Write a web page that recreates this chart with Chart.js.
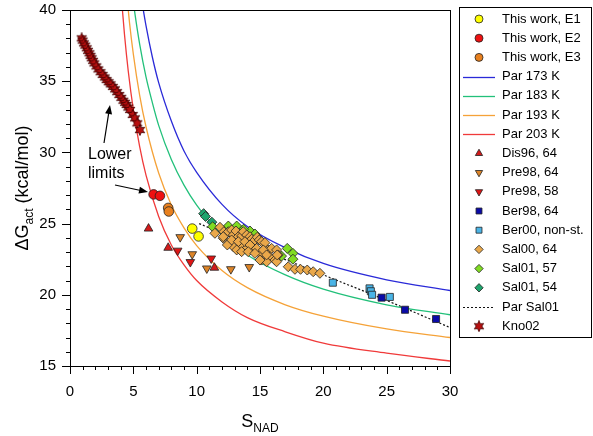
<!DOCTYPE html>
<html>
<head>
<meta charset="utf-8">
<script src="https://cdn.jsdelivr.net/npm/chart.js@4/dist/chart.umd.min.js"></script>
<style>
  html, body { margin: 0; padding: 0; background: #fff; }
  canvas { display: block; }
</style>
</head>
<body>
<canvas id="myChart" width="593" height="436"></canvas>
<script>
// values (S_NAD on x, dG_act on y)

var e1X = [9.65, 10.15];
var e1Y = [24.65, 24.1];
var e2X = [6.6, 7.1];
var e2Y = [27.05, 26.95];
var e3X = [7.75, 7.8];
var e3Y = [26.1, 25.85];

// fitted curves, points
var par173X = [5.6, 6.0, 6.5, 7.0, 8.0, 9.0, 10, 12, 14, 17, 20, 25, 30];
var par173Y = [41.0, 38.9, 36.7, 34.9, 32.2, 30.1, 28.6, 26.35, 24.8, 23.3, 22.2, 21.05, 20.3];
var par183X = [4.8, 5.1, 5.5, 6.0, 6.5, 7.0, 8.0, 9.0, 10, 12, 14, 17, 20, 25, 30];
var par183Y = [41.9, 39.9, 37.6, 35.3, 33.5, 31.9, 29.5, 27.7, 26.3, 24.2, 22.8, 21.4, 20.4, 19.3, 18.6];
var par193X = [4.4, 4.7, 5.0, 5.5, 6.0, 7.0, 8.0, 9.0, 10, 12, 14, 17, 20, 25, 30];
var par193Y = [41.8, 39.1, 36.9, 34.0, 31.8, 28.55, 26.3, 24.7, 23.45, 21.7, 20.5, 19.3, 18.5, 17.6, 17.0];
var par203X = [4.0, 4.3, 4.6, 5.0, 5.5, 6.0, 7.0, 8.0, 9.0, 10, 12, 14, 17, 20, 25, 30];
var par203Y = [41.5, 38.3, 35.7, 33.0, 30.4, 28.4, 25.5, 23.5, 22.1, 21.0, 19.5, 18.4, 17.4, 16.6, 15.9, 15.35];

var dis96X = [6.2, 7.75, 11.4];
var dis96Y = [24.65, 23.3, 21.9];
var pre64X = [8.7, 9.65, 10.8, 12.7, 14.15];
var pre64Y = [24.05, 22.85, 21.85, 21.8, 21.95];
var pre58X = [8.5, 9.5, 11.15];
var pre58Y = [23.1, 22.3, 22.55];
var ber98X = [24.6, 26.45, 28.9];
var ber98Y = [19.8, 18.95, 18.3];
var ber00X = [20.75, 23.65, 23.75, 23.85, 25.25];
var ber00Y = [20.85, 20.45, 20.25, 20.0, 19.85];

var sal00X = [11.44, 11.84, 12.15, 12.5, 12.76, 12.89, 13.1, 13.29, 13.55, 13.68, 13.95, 14.21, 14.34, 14.47,
  14.78, 14.94, 15.13, 15.39, 15.65, 15.92, 16.31, 16.44, 15.79, 15.13, 15.52, 15.0, 14.34, 13.95, 13.42,
  12.89, 12.42, 12.1, 12.76, 13.29, 13.81, 14.21, 14.73, 15.26, 13.16, 13.55, 14.07, 14.6, 15.52, 16.18,
  12.1, 15.0, 16.31, 16.36, 17.23, 17.76, 18.2, 18.73, 19.2, 19.73];
var sal00Y = [24.32, 24.74, 24.43, 24.43, 24.55, 24.2, 24.48, 24.08, 24.13, 24.43, 24.2, 24.08, 23.9, 23.73,
  24.04, 23.85, 23.73, 23.66, 23.15, 23.26, 23.15, 22.8, 22.68, 22.44, 22.32, 22.91, 23.38, 23.38, 23.5,
  23.38, 23.5, 23.97, 23.85, 23.73, 23.73, 23.5, 23.26, 23.15, 23.15, 23.03, 23.03, 22.91, 22.8, 22.44,
  24.08, 22.44, 22.32, 22.8, 21.97, 21.79, 21.79, 21.74, 21.62, 21.51];
var sal57X = [11.26, 12.5, 13.16, 14.21, 14.6, 17.15, 17.6, 17.6, 16.7, 13.7];
var sal57Y = [24.78, 24.83, 24.83, 24.48, 24.27, 23.26, 22.91, 22.5, 22.72, 24.6];
var sal54X = [10.55, 10.7, 11.2];
var sal54Y = [25.7, 25.5, 25.1];

var parSalX = [10.2, 15, 20, 25, 30];
var parSalY = [25.0, 23.2, 21.4, 19.6, 17.7];

var kno02X = [0.92, 1.0, 1.1, 1.2, 1.32, 1.42, 1.53, 1.62, 1.71, 1.82, 1.92, 2.08, 2.24, 2.41, 2.58, 2.74, 2.89,
  3.05, 3.21, 3.38, 3.55, 3.72, 3.89, 4.05, 4.21, 4.34, 4.47, 4.6, 4.74, 4.95, 5.13, 5.31, 5.52];
var kno02Y = [38.01, 37.85, 37.66, 37.5, 37.31, 37.13, 36.96, 36.78, 36.61, 36.43, 36.25, 36.04, 35.83, 35.63,
  35.44, 35.26, 35.08, 34.93, 34.78, 34.6, 34.43, 34.23, 34.03, 33.83, 33.63, 33.48, 33.33, 33.15, 32.98,
  32.63, 32.39, 32.04, 31.57];

var xTicks = [0, 5, 10, 15, 20, 25, 30];
var yTicks = [15, 20, 25, 30, 35, 40];

var FONT = "'Liberation Sans', Arial, sans-serif";

function pts(xs, ys){
  var out = [];
  for (var i = 0; i < xs.length; i++) out.push({x: xs[i], y: ys[i]});
  return out;
}

// filled six point star for Kno02
function makeStar(){
  var c = document.createElement('canvas');
  c.width = 12; c.height = 12;
  var g = c.getContext('2d');
  g.beginPath();
  for (var i = 0; i < 12; i++) {
    var r = i % 2 === 0 ? 5.5 : 2.8;
    var a = -Math.PI / 2 + i * Math.PI / 6;
    var px = 6 + r * Math.cos(a), py = 6 + r * Math.sin(a);
    if (i === 0) g.moveTo(px, py); else g.lineTo(px, py);
  }
  g.closePath();
  g.fillStyle = '#b81010';
  g.fill();
  g.lineWidth = 0.8;
  g.strokeStyle = '#400000';
  g.stroke();
  return c;
}
var starImg = makeStar();

function markers(label, xs, ys, style, fill, radius, rotation){
  return {
    label: label,
    data: pts(xs, ys),
    pointStyle: style,
    pointRadius: radius,
    pointRotation: rotation || 0,
    backgroundColor: fill,
    borderColor: '#222',
    borderWidth: 0.8,
    showLine: false,
    order: 1
  };
}

function curve(label, xs, ys, color, dash){
  return {
    label: label,
    data: pts(xs, ys),
    showLine: true,
    borderColor: color,
    borderWidth: dash ? 1.2 : 1.3,
    borderDash: dash || [],
    pointRadius: 0,
    cubicInterpolationMode: 'monotone',
    fill: false,
    order: 5
  };
}

var datasets = [
  markers('This work, E1', e1X, e1Y, 'circle', '#ffff00', 4.8),
  markers('This work, E2', e2X, e2Y, 'circle', '#ee1111', 4.8),
  markers('This work, E3', e3X, e3Y, 'circle', '#e8801e', 4.8),
  curve('Par 173 K', par173X, par173Y, '#2a2ad8'),
  curve('Par 183 K', par183X, par183Y, '#22c07a'),
  curve('Par 193 K', par193X, par193Y, '#f5a238'),
  curve('Par 203 K', par203X, par203Y, '#f03a3a'),
  markers('Dis96, 64', dis96X, dis96Y, 'triangle', '#d41a1a', 5),
  markers('Pre98, 64', pre64X, pre64Y, 'triangle', '#dc8428', 5, 180),
  markers('Pre98, 58', pre58X, pre58Y, 'triangle', '#e01414', 5, 180),
  markers('Ber98, 64', ber98X, ber98Y, 'rect', '#0a0aa8', 5),
  markers('Ber00, non-st.', ber00X, ber00Y, 'rect', '#4ab4e6', 5),
  markers('Sal00, 64', sal00X, sal00Y, 'rectRot', '#eaa84a', 5),
  markers('Sal01, 57', sal57X, sal57Y, 'rectRot', '#80dc22', 5),
  markers('Sal01, 54', sal54X, sal54Y, 'rectRot', '#1ea46c', 5),
  curve('Par Sal01', parSalX, parSalY, '#111', [2, 2]),
  markers('Kno02', kno02X, kno02Y, starImg, '#b81010', 5)
];

// frame, ticks, titles, legend and the note
var decor = {
  id: 'decor',
  afterDraw: function(chart){
    var ctx = chart.ctx, a = chart.chartArea;
    var xs = chart.scales.x, ys = chart.scales.y;
    ctx.save();
    ctx.strokeStyle = '#000';
    ctx.lineWidth = 1;
    ctx.strokeRect(Math.round(a.left) + 0.5, Math.round(a.top) + 0.5,
      Math.round(a.right - a.left), Math.round(a.bottom - a.top));

    ctx.beginPath();
    for (var v = 0; v <= 30; v++) {
      var px = Math.round(xs.getPixelForValue(v)) + 0.5;
      var len = v % 5 === 0 ? 8 : 4;
      ctx.moveTo(px, a.bottom); ctx.lineTo(px, a.bottom + len);
    }
    for (var w = 15; w <= 40; w++) {
      var py = Math.round(ys.getPixelForValue(w)) + 0.5;
      var l2 = w % 5 === 0 ? 8 : 4;
      ctx.moveTo(a.left, py); ctx.lineTo(a.left - l2, py);
    }
    ctx.stroke();

    // axis titles with subscripts
    ctx.fillStyle = '#000';
    ctx.textBaseline = 'alphabetic';
    ctx.font = '18px ' + FONT;
    var wS = ctx.measureText('S').width;
    ctx.font = '12px ' + FONT;
    var wNad = ctx.measureText('NAD').width;
    var cx = (a.left + a.right) / 2;
    var sx = cx - (wS + wNad) / 2;
    ctx.font = '18px ' + FONT;
    ctx.textAlign = 'left';
    ctx.fillText('S', sx, 427);
    ctx.font = '12px ' + FONT;
    ctx.fillText('NAD', sx + wS, 432);

    ctx.save();
    ctx.translate(28, (a.top + a.bottom) / 2);
    ctx.rotate(-Math.PI / 2);
    ctx.font = '18px ' + FONT;
    var w1 = ctx.measureText('\u0394G').width;
    var w3 = ctx.measureText(' (kcal/mol)').width;
    ctx.font = '12px ' + FONT;
    var w2 = ctx.measureText('act').width;
    var tx = -(w1 + w2 + w3) / 2;
    ctx.font = '18px ' + FONT;
    ctx.fillText('\u0394G', tx, 0);
    ctx.font = '12px ' + FONT;
    ctx.fillText('act', tx + w1, 5);
    ctx.font = '18px ' + FONT;
    ctx.fillText(' (kcal/mol)', tx + w1 + w2, 0);
    ctx.restore();

    // note with arrows
    ctx.font = '16px ' + FONT;
    ctx.textBaseline = 'middle';
    ctx.fillText('Lower', 88, 155);
    ctx.fillText('limits', 88, 174);
    arrow(ctx, 104, 143, 110, 105);
    arrow(ctx, 115, 185, 148, 192);

    // legend box
    ctx.lineWidth = 1;
    ctx.strokeStyle = '#000';
    ctx.strokeRect(459.5, 7.5, 132, 330);
    ctx.font = '13px ' + FONT;
    ctx.textAlign = 'left';
    ctx.textBaseline = 'middle';
    chart.data.datasets.forEach(function(ds, i){
      var y = 19 + i * 19.2;
      if (ds.showLine) {
        ctx.save();
        ctx.strokeStyle = ds.borderColor;
        ctx.lineWidth = ds.borderWidth;
        ctx.setLineDash(ds.borderDash || []);
        ctx.beginPath();
        ctx.moveTo(463, Math.round(y) + 0.5);
        ctx.lineTo(495, Math.round(y) + 0.5);
        ctx.stroke();
        ctx.restore();
      } else {
        ctx.save();
        ctx.fillStyle = ds.backgroundColor;
        ctx.strokeStyle = ds.borderColor;
        ctx.lineWidth = ds.borderWidth;
        Chart.helpers.drawPoint(ctx, {
          pointStyle: ds.pointStyle,
          radius: ds.pointStyle === 'circle' ? 4 : 4.2,
          rotation: ds.pointRotation,
          borderWidth: ds.borderWidth
        }, 479, y);
        ctx.restore();
      }
      ctx.fillStyle = '#000';
      ctx.fillText(ds.label, 502, y);
    });
    ctx.restore();
  }
};

function arrow(ctx, x1, y1, x2, y2){
  var ang = Math.atan2(y2 - y1, x2 - x1);
  ctx.beginPath();
  ctx.moveTo(x1, y1);
  ctx.lineTo(x2 - 5 * Math.cos(ang), y2 - 5 * Math.sin(ang));
  ctx.strokeStyle = '#000';
  ctx.lineWidth = 1.2;
  ctx.stroke();
  ctx.beginPath();
  ctx.moveTo(x2, y2);
  ctx.lineTo(x2 - 9 * Math.cos(ang) + 3.5 * Math.sin(ang), y2 - 9 * Math.sin(ang) - 3.5 * Math.cos(ang));
  ctx.lineTo(x2 - 9 * Math.cos(ang) - 3.5 * Math.sin(ang), y2 - 9 * Math.sin(ang) + 3.5 * Math.cos(ang));
  ctx.closePath();
  ctx.fillStyle = '#000';
  ctx.fill();
}

// pin the plot box to where it sits in the picture
var pinArea = {
  id: 'pinArea',
  afterLayout: function(chart){
    var a = chart.chartArea;
    a.top = 10; a.bottom = 366; a.left = 70; a.right = 450;
    a.width = a.right - a.left; a.height = a.bottom - a.top;
    var xs = chart.scales.x, ys = chart.scales.y;
    xs.left = 70; xs.right = 450; xs.width = 380;
    xs.top = 366; xs.bottom = 436;
    ys.top = 10; ys.bottom = 366; ys.height = 356;
    ys.left = 0; ys.right = 70;
    xs.configure(); ys.configure();
  }
};

var ctx = document.getElementById('myChart');
var myChart = new Chart(ctx, {
  type: 'scatter',
  data: { datasets: datasets },
  options: {
    responsive: false,
    animation: false,
    devicePixelRatio: 1,
    layout: { padding: { left: 0, right: 143, top: 2, bottom: 0 } },
    plugins: { legend: { display: false }, tooltip: { enabled: false } },
    scales: {
      x: {
        type: 'linear', min: 0, max: 30,
        afterFit: function(s){ s.height = 70; },
        afterBuildTicks: function(s){ s.ticks = xTicks.map(function(v){ return {value: v}; }); },
        grid: { display: false, drawTicks: false },
        border: { display: false },
        ticks: { font: { size: 15, family: FONT }, color: '#000', padding: 17, maxRotation: 0 }
      },
      y: {
        type: 'linear', min: 15, max: 40,
        afterFit: function(s){ s.width = 70; },
        afterBuildTicks: function(s){ s.ticks = yTicks.map(function(v){ return {value: v}; }); },
        grid: { display: false, drawTicks: false },
        border: { display: false },
        ticks: { font: { size: 15, family: FONT }, color: '#000', padding: 14 }
      }
    }
  },
  plugins: [pinArea, decor]
});
</script>
</body>
</html>
